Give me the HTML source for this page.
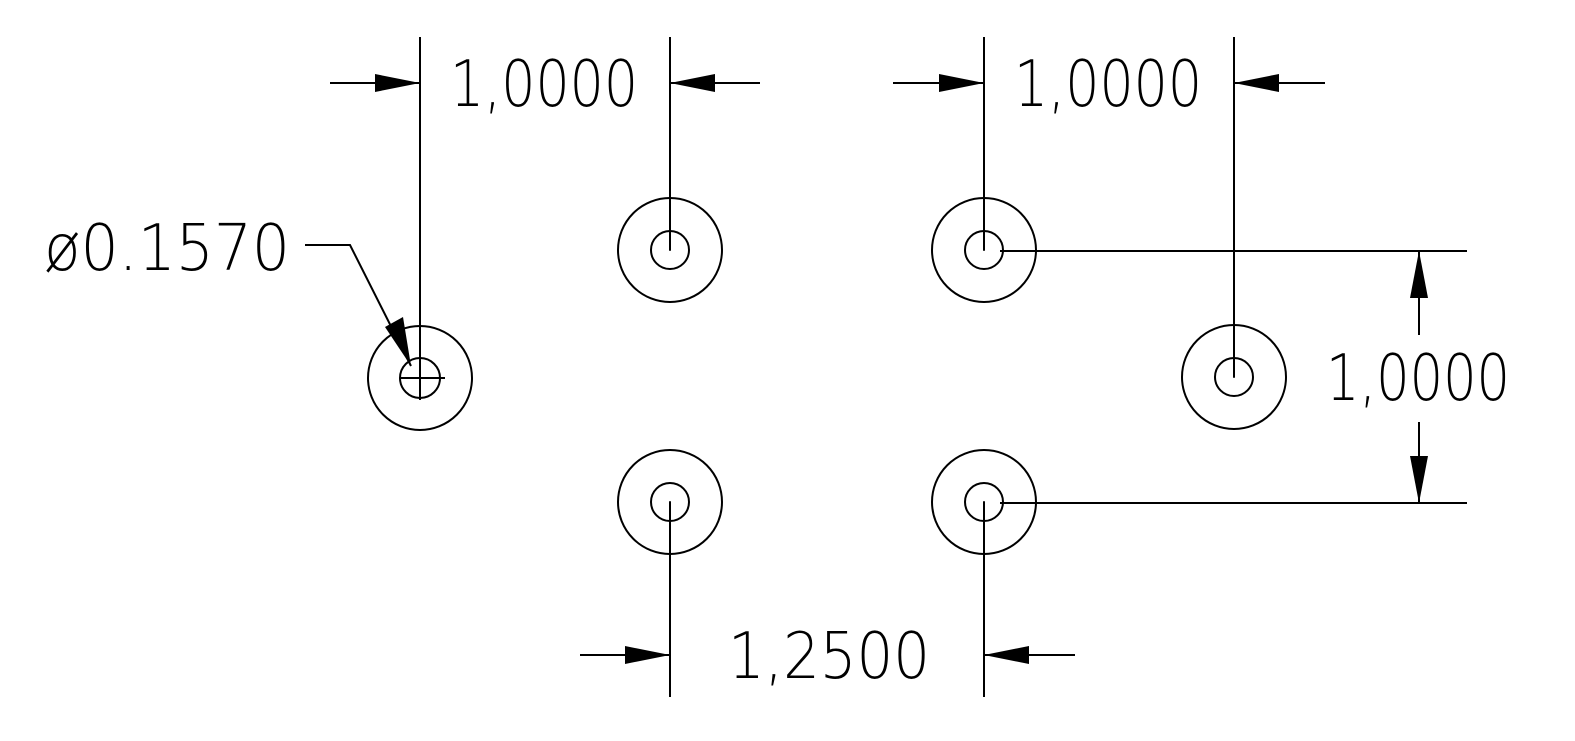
<!DOCTYPE html>
<html><head><meta charset="utf-8"><style>
html,body{margin:0;padding:0;background:#fff}
svg{display:block}
text{font-family:"DejaVu Sans","Liberation Sans",sans-serif;font-weight:200;font-size:64px;fill:#000}
</style></head><body>
<svg width="1575" height="741" viewBox="0 0 1575 741" xmlns="http://www.w3.org/2000/svg">
<g fill="none" stroke="#000" stroke-width="2">
  <circle cx="420" cy="378" r="52"/><circle cx="420" cy="378" r="20"/>
  <line x1="400" y1="378" x2="445" y2="378"/>
  <circle cx="670" cy="250" r="52"/><circle cx="670" cy="250" r="19"/>
  <circle cx="984" cy="250" r="52"/><circle cx="984" cy="250" r="19"/>
  <circle cx="1234" cy="377" r="52"/><circle cx="1234" cy="377" r="19"/>
  <circle cx="670" cy="502" r="52"/><circle cx="670" cy="502" r="19"/>
  <circle cx="984" cy="502" r="52"/><circle cx="984" cy="502" r="19"/>
  <line x1="420" y1="37" x2="420" y2="400"/>
  <line x1="670" y1="37" x2="670" y2="250"/>
  <line x1="984" y1="37" x2="984" y2="250"/>
  <line x1="1234" y1="37" x2="1234" y2="377"/>
  <line x1="670" y1="502" x2="670" y2="697"/>
  <line x1="984" y1="502" x2="984" y2="697"/>
  <line x1="1000" y1="251" x2="1467" y2="251"/>
  <line x1="1000" y1="503" x2="1467" y2="503"/>
  <line x1="330" y1="83" x2="420" y2="83"/>
  <line x1="670" y1="83" x2="760" y2="83"/>
  <line x1="893" y1="83" x2="984" y2="83"/>
  <line x1="1234" y1="83" x2="1325" y2="83"/>
  <line x1="580" y1="655" x2="670" y2="655"/>
  <line x1="984" y1="655" x2="1075" y2="655"/>
  <line x1="1419" y1="251" x2="1419" y2="335"/>
  <line x1="1419" y1="422" x2="1419" y2="503"/>
  <polyline points="305,245 350,245 411,366"/>
</g>
<g fill="#000">
  <polygon points="420,83 375,74 375,92"/>
  <polygon points="670,83 715,74 715,92"/>
  <polygon points="984,83 939,74 939,92"/>
  <polygon points="1234,83 1279,74 1279,92"/>
  <polygon points="670,655 625,646 625,664"/>
  <polygon points="984,655 1029,646 1029,664"/>
  <polygon points="1419,251 1410,298 1428,298"/>
  <polygon points="1419,503 1410,456 1428,456"/>
  <polygon points="411,366 385,327 403,317"/>
  <circle cx="670" cy="250" r="1"/><circle cx="984" cy="250" r="1"/>
  <circle cx="1234" cy="377" r="1"/><circle cx="670" cy="502" r="1"/>
  <circle cx="984" cy="502" r="1"/>
</g>
<text x="450" y="106" textLength="188" lengthAdjust="spacingAndGlyphs">1,0000</text>
<text x="1014" y="106" textLength="188" lengthAdjust="spacingAndGlyphs">1,0000</text>
<text x="1326" y="400" textLength="184" lengthAdjust="spacingAndGlyphs">1,0000</text>
<text x="728" y="678" textLength="202" lengthAdjust="spacingAndGlyphs">1,2500</text>
<text x="44" y="270" textLength="246" lengthAdjust="spacingAndGlyphs">ø0.1570</text>
</svg>
</body></html>
